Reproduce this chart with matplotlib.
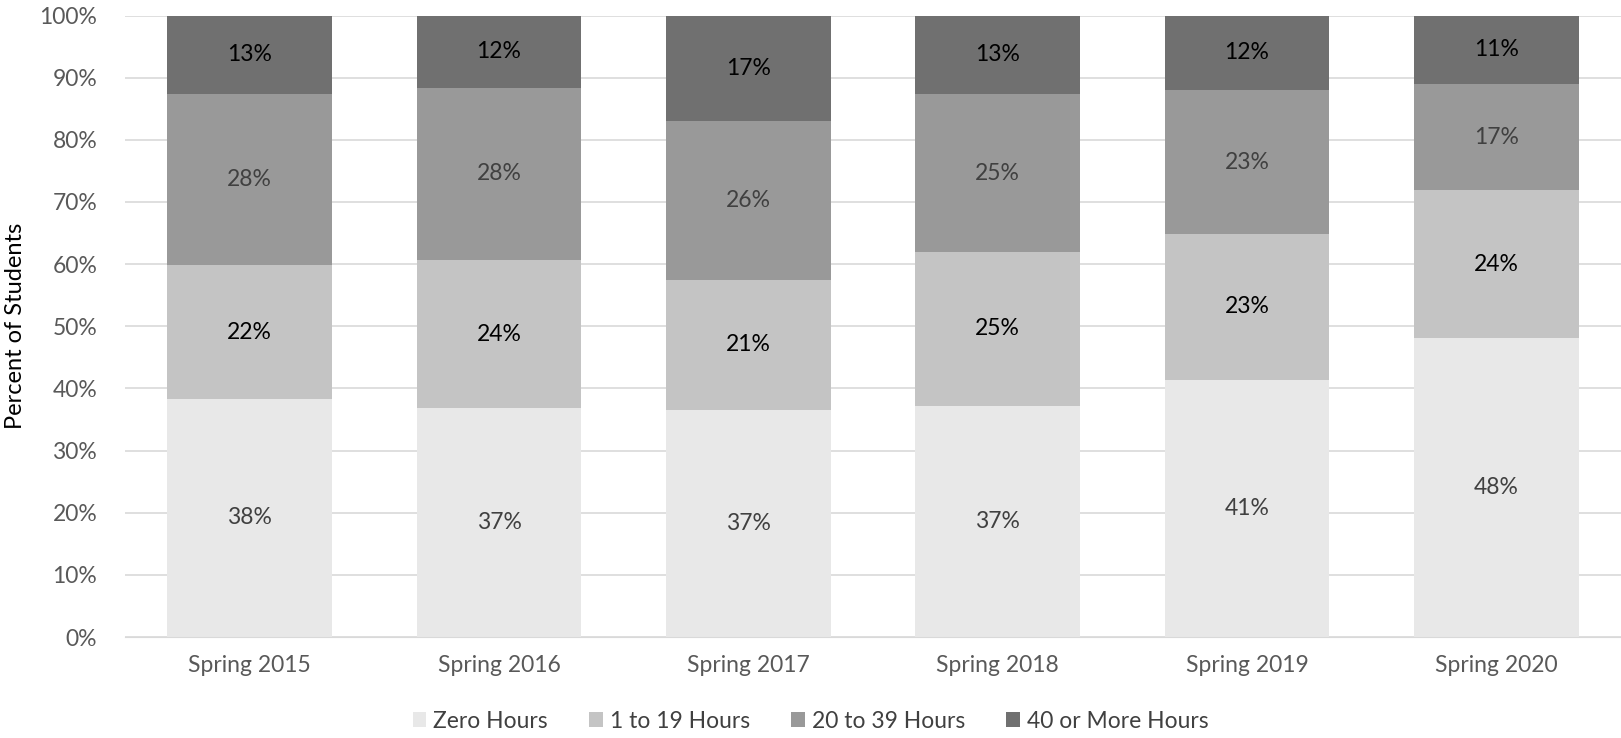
import numpy as np
import matplotlib
matplotlib.use('Agg')
import matplotlib.pyplot as plt
from matplotlib.ticker import PercentFormatter

plt.rcParams['font.family'] = ['Lato', 'DejaVu Sans']

terms = ['Spring 2015', 'Spring 2016', 'Spring 2017', 'Spring 2018', 'Spring 2019', 'Spring 2020']
zero_hours = [38.3, 36.9, 36.6, 37.2, 41.4, 48.1]
hours_1_19 = [21.5, 23.7, 20.9, 24.8, 23.4, 23.8]
hours_20_39 = [27.5, 27.8, 25.6, 25.3, 23.2, 17.1]
hours_40_plus = [12.7, 11.6, 16.9, 12.7, 12.0, 11.0]

series = [
    ('Zero Hours', zero_hours, '#e8e8e8', '#404040'),
    ('1 to 19 Hours', hours_1_19, '#c4c4c4', '#000000'),
    ('20 to 39 Hours', hours_20_39, '#999999', '#404040'),
    ('40 or More Hours', hours_40_plus, '#707070', '#000000'),
]

fig = plt.figure(figsize=(16.21, 7.38), dpi=100)
ax = fig.add_axes([125 / 1621, 1 - 637 / 738, 1496 / 1621, (637 - 15.5) / 738])

x = np.arange(len(terms))
bottom = np.zeros(len(terms))
for name, vals, color, txt_color in series:
    vals = np.array(vals)
    ax.bar(x, vals, width=0.66, bottom=bottom, color=color, label=name, zorder=2)
    for xi, b, v in zip(x, bottom, vals):
        ax.text(xi, b + v / 2, '{:.0f}%'.format(v), ha='center', va='center',
                fontsize=16.5, color=txt_color, zorder=3)
    bottom += vals

ax.set_xlim(-0.5, len(terms) - 0.5)
ax.set_ylim(0, 100)
ax.set_yticks(np.arange(0, 101, 10))
ax.yaxis.set_major_formatter(PercentFormatter(decimals=0))
ax.set_xticks(x)
ax.set_xticklabels(terms)
ax.tick_params(axis='both', length=0, labelsize=16.5, labelcolor='#595959')
ax.tick_params(axis='x', pad=13)
ax.tick_params(axis='y', pad=20)
ax.grid(axis='y', color='#d9d9d9', linewidth=1.2, zorder=0)
for s in ['top', 'right', 'left']:
    ax.spines[s].set_visible(False)
ax.spines['bottom'].set_color('#d9d9d9')
ax.set_ylabel('Percent of Students', fontsize=17, color='#000000')
ax.yaxis.set_label_coords(-0.066, 0.5)

fig.legend(loc='center', bbox_to_anchor=(0.5, 1 - 721 / 738), ncol=4, frameon=False,
           fontsize=16.5, handlelength=0.6, handleheight=0.6, handletextpad=0.3,
           columnspacing=1.8, labelcolor='#404040')

fig.savefig('out.png', dpi=100)
